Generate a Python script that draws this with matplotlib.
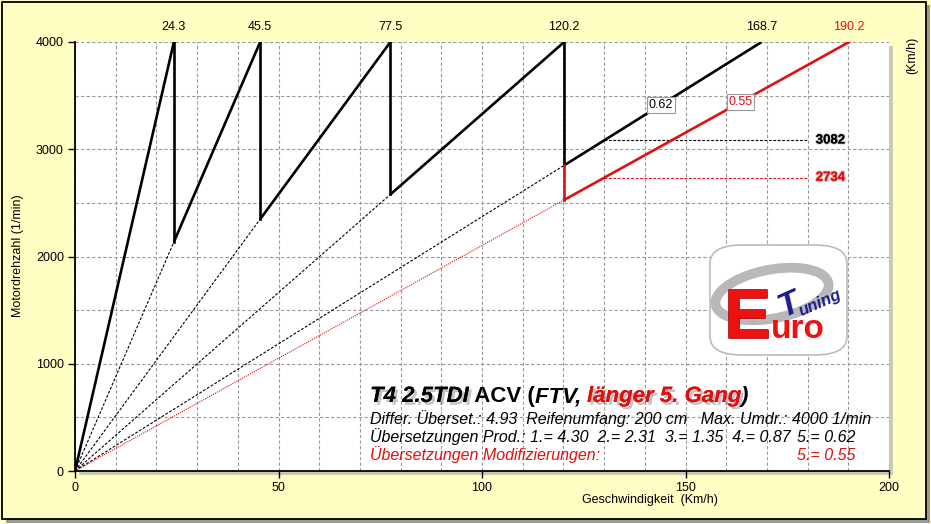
import matplotlib
matplotlib.use("Agg")
import matplotlib.pyplot as plt
import matplotlib.patheffects as pe
from matplotlib.patches import Rectangle, FancyBboxPatch, Ellipse
from matplotlib import font_manager
import numpy as np

# ---- data ----
gears = ["1", "2", "3", "4", "5"]
ratios_prod = [4.30, 2.31, 1.35, 0.87, 0.62]
ratio_mod5 = 0.55
vmax_prod = [24.3, 45.5, 77.5, 120.2, 168.7]
vmax_mod5 = 190.2
max_rpm = 4000
ref_speed = 130
rpm_ref_prod = 3082
rpm_ref_mod = 2734
x_ticks = [0, 50, 100, 150, 200]
y_ticks = [0, 1000, 2000, 3000, 4000]

W, H = 931, 524
BG = "#FFFFC4"
RED = "#E01010"
FONT = "Liberation Sans"
plt.rcParams['font.family'] = [FONT, 'DejaVu Sans']
names = {f.name for f in font_manager.fontManager.ttflist}
NARROW = "Liberation Sans Narrow" if "Liberation Sans Narrow" in names else FONT

fig = plt.figure(figsize=(W / 100, H / 100), dpi=100, facecolor=BG)

def fx(px):
    return px / W

def fy(py):
    return 1 - py / H

# figure frame with shadow
fig.patches.append(Rectangle((fx(6), fy(523)), fx(924), 518 / H, transform=fig.transFigure,
                             facecolor="#9A9A9A", edgecolor="none", zorder=-5))
fig.patches.append(Rectangle((fx(2), fy(519)), fx(924), 517 / H, transform=fig.transFigure,
                             facecolor=BG, edgecolor="black", linewidth=1.3, zorder=-4))

L, R, T, B = 75, 889, 42, 471
# plot area shadow
fig.patches.append(Rectangle((fx(L + 4), fy(B + 4)), fx(R - L), (B - T) / H, transform=fig.transFigure,
                             facecolor="#CACAB0", edgecolor="none", zorder=-3))

ax = fig.add_axes([fx(L), fy(B), fx(R - L), (B - T) / H])
ax.set_facecolor("white")
ax.set_xlim(0, 200)
ax.set_ylim(0, 4000)
ax.set_xticks(x_ticks)
ax.set_yticks(y_ticks)
ax.set_xticks(np.arange(0, 201, 10), minor=True)
ax.set_yticks(np.arange(0, 4001, 500), minor=True)
ax.grid(which="both", color="#9A9A9A", linestyle=(0, (3, 2)), linewidth=0.8)
ax.tick_params(which="minor", length=0)
ax.tick_params(which="major", direction="out", length=5, width=1, labelsize=9, pad=3)
for s in ["top", "right"]:
    ax.spines[s].set_visible(False)
for s in ["left", "bottom"]:
    ax.spines[s].set_linewidth(1.3)
ax.set_axisbelow(True)

# sawtooth
prev_v = 0.0
for i, v in enumerate(vmax_prod):
    start_rpm = prev_v / v * max_rpm
    ax.plot([prev_v, v], [start_rpm, max_rpm], color="black", lw=1.9, solid_capstyle="butt", zorder=5)
    if i > 0:
        ax.plot([0, prev_v], [0, start_rpm], color="black", lw=0.8, linestyle=(0, (2.5, 1.5)), zorder=4)
    if i < len(vmax_prod) - 1:
        nxt = vmax_prod[i + 1]
        ax.plot([v, v], [max_rpm, v / nxt * max_rpm], color="black", lw=1.9, zorder=5)
    prev_v = v

# modified 5th gear
v4 = vmax_prod[3]
start_mod = v4 / vmax_mod5 * max_rpm
start_prod5 = v4 / vmax_prod[4] * max_rpm
ax.plot([v4, v4], [start_prod5, start_mod], color=RED, lw=1.9, zorder=5)
ax.plot([v4, vmax_mod5], [start_mod, max_rpm], color=RED, lw=1.9, zorder=5)
ax.plot([0, v4], [0, start_mod], color=RED, lw=0.8, linestyle=(0, (1, 1)), zorder=4)

# reference rpm lines at 130 km/h
ax.plot([ref_speed, 180], [rpm_ref_prod, rpm_ref_prod], color="black", lw=0.8, linestyle=(0, (2.5, 1.5)), zorder=4)
ax.plot([ref_speed, 180], [rpm_ref_mod, rpm_ref_mod], color=RED, lw=0.8, linestyle=(0, (2.5, 1.5)), zorder=4)
ax.text(182, rpm_ref_prod, str(rpm_ref_prod), fontsize=9.5, fontweight="bold", color="black",
        va="center", ha="left", path_effects=[pe.withStroke(linewidth=1.5, foreground="#CCCCCC"), pe.Normal()])
ax.text(182, rpm_ref_mod, str(rpm_ref_mod), fontsize=9.5, fontweight="bold", color=RED,
        va="center", ha="left", path_effects=[pe.withStroke(linewidth=1.5, foreground="#F0B0B0"), pe.Normal()])

# ratio boxes
xb = 144
ax.text(xb, xb / vmax_prod[4] * max_rpm, f"{ratios_prod[4]:.2f}", fontsize=9, ha="center", va="center",
        color="black", zorder=7,
        bbox=dict(boxstyle="square,pad=0.15", facecolor="white", edgecolor="#999999", linewidth=0.8))
xb2 = 163.5
ax.text(xb2, xb2 / vmax_mod5 * max_rpm, f"{ratio_mod5:.2f}", fontsize=9, ha="center", va="center",
        color=RED, zorder=7,
        bbox=dict(boxstyle="square,pad=0.15", facecolor="white", edgecolor="#999999", linewidth=0.8))

# top speed labels
for v in vmax_prod:
    ax.text(v, 4140, f"{v:.1f}", fontsize=9, ha="center", va="center", color="black", clip_on=False)
ax.text(vmax_mod5, 4140, f"{vmax_mod5:.1f}", fontsize=9, ha="center", va="center", color=RED, clip_on=False)

fig.text(fx(912), fy(55), "(Km/h)", rotation=90, fontsize=9, ha="center", va="center")
fig.text(fx(18), fy(256), "Motordrehzahl (1/min)", rotation=90, fontsize=9, ha="center", va="center")
fig.text(fx(650), fy(500), "Geschwindigkeit  (Km/h)", fontsize=9, ha="center", va="center")

# title block
tsize = 16
sh = [pe.withSimplePatchShadow(offset=(2, -2), shadow_rgbFace="#555555", alpha=0.35), pe.Normal()]
t1 = fig.text(fx(370), fy(402), "T4 2.5TDI", fontsize=tsize, fontweight="bold", fontstyle="italic",
              color="black", ha="left", va="baseline", path_effects=sh)
pieces = [(" ACV (", "normal", "black", None),
          ("FTV, ", "italic", "black", None),
          ("länger 5. Gang", "italic", RED, sh),
          (")", "italic", "black", None)]
prev = t1
for txt, style, col, eff in pieces:
    kw = dict(path_effects=eff) if eff else {}
    prev = ax.annotate(txt, xy=(1, 0), xycoords=prev, xytext=(0, 0), textcoords="offset points",
                       fontsize=tsize, fontweight="bold", fontstyle=style, color=col,
                       ha="left", va="bottom", annotation_clip=False, **kw)

ssize = 11.5
fig.text(fx(370), fy(419), "Differ. Überset.: 4.93  Reifenumfang: 200 cm   Max. Umdr.: 4000 1/min",
         fontsize=ssize, fontstyle="italic", ha="left", va="center")
fig.text(fx(370), fy(437), "Übersetzungen Prod.: 1.= 4.30  2.= 2.31  3.= 1.35  4.= 0.87",
         fontsize=ssize, fontstyle="italic", ha="left", va="center")
fig.text(fx(797), fy(437), "5.= 0.62", fontsize=ssize, fontstyle="italic", ha="left", va="center")
fig.text(fx(370), fy(455), "Übersetzungen Modifizierungen:", fontsize=ssize, fontstyle="italic",
         color=RED, ha="left", va="center")
fig.text(fx(797), fy(455), "5.= 0.55", fontsize=ssize, fontstyle="italic", color=RED,
         ha="left", va="center")

# logo (approximation)
fig.patches.append(FancyBboxPatch((fx(710), fy(355)), fx(137), 110 / H, boxstyle="round,pad=0,rounding_size=0.035",
                                  transform=fig.transFigure, facecolor="white", edgecolor="#BBBBBB",
                                  linewidth=1.2, zorder=6))
fig.patches.append(Ellipse((fx(772), fy(294)), fx(122), 46 / H, angle=30, transform=fig.transFigure,
                           facecolor="none", edgecolor="#B8B8B8", linewidth=7, zorder=7))
fig.text(fx(748), fy(338), "E", fontsize=50, fontweight="bold", family=NARROW, color="#EE1111",
         ha="center", va="baseline", zorder=8,
         path_effects=[pe.withStroke(linewidth=1.2, foreground="#AA0000"), pe.Normal()])
fig.text(fx(771), fy(338), "uro", fontsize=24, fontweight="bold", color="#EE1111", ha="left", va="baseline",
         zorder=8)
fig.text(fx(820), fy(303), "uning", fontsize=12, fontweight="bold", fontstyle="italic", color="#1A1A8C",
         ha="center", va="center", rotation=24, zorder=9)
fig.text(fx(789), fy(305), "T", fontsize=24, fontweight="bold", fontstyle="italic", color="#1A1A8C",
         ha="center", va="center", rotation=24, zorder=9)

fig.savefig("out.png", dpi=100, facecolor=BG)
